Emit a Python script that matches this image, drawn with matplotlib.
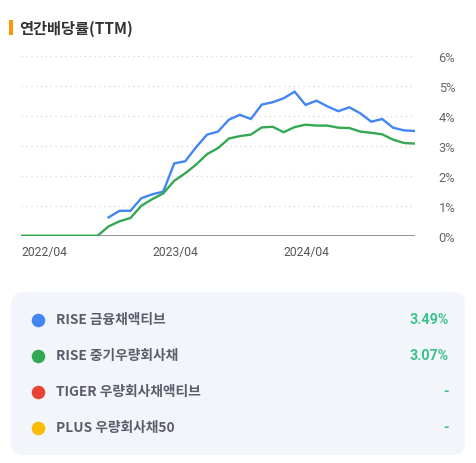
import numpy as np
import matplotlib
matplotlib.use("Agg")
import matplotlib.pyplot as plt
from matplotlib.patches import FancyBboxPatch, Rectangle

# monthly, 2022/04 .. 2025/04
months = [f"{2022 + (3 + i) // 12}/{(3 + i) % 12 + 1:02d}" for i in range(37)]
tick_labels = ["2022/04", "2023/04", "2024/04"]

rise_fin = [np.nan] * 8 + [0.61, 0.83, 0.83, 1.25, 1.38, 1.47, 2.41, 2.48, 2.95, 3.37,
                           3.47, 3.87, 4.03, 3.89, 4.37, 4.45, 4.58, 4.80, 4.36, 4.50,
                           4.31, 4.15, 4.28, 4.08, 3.80, 3.89, 3.60, 3.51, 3.49]
rise_mid = [0.0] * 8 + [0.31, 0.48, 0.59, 1.00, 1.22, 1.41, 1.83, 2.08, 2.37, 2.72,
                        2.92, 3.24, 3.32, 3.37, 3.61, 3.63, 3.45, 3.62, 3.70, 3.67,
                        3.67, 3.60, 3.59, 3.47, 3.43, 3.38, 3.20, 3.09, 3.07]

names = ["RISE 금융채액티브", "RISE 중기우량회사채", "TIGER 우량회사채액티브", "PLUS 우량회사채50"]
latest = ["3.49%", "3.07%", "-", "-"]
colors = ["#4285f4", "#34a853", "#ea4335", "#fbbc05"]

kr = ["Noto Sans CJK KR", "DejaVu Sans"]

fig = plt.figure(figsize=(4.76, 4.64), dpi=100)
W, H = 476, 464

# overlay in pixel coords
ov = fig.add_axes([0, 0, 1, 1])
ov.set_xlim(0, W)
ov.set_ylim(H, 0)
ov.axis("off")

ov.add_patch(Rectangle((9, 21), 3.5, 15, color="#ff9500", lw=0))
ov.text(19, 28.5, "연간배당률(TTM)", family=kr, fontsize=11, fontweight="bold",
        color="#333333", va="center", ha="left")

ov.add_patch(FancyBboxPatch((11, 293), 454, 163, boxstyle="round,pad=0,rounding_size=13",
                            fc="#f2f5f9", ec="none"))
for k, (nm, v, c) in enumerate(zip(names, latest, colors)):
    y = 320.5 + k * 36
    ov.scatter([37.5], [y], s=95, color=c, lw=0, zorder=3)
    ov.text(56, y, nm, family=kr, fontsize=9.9, fontweight="bold", color="#5c5c6b",
            va="center", ha="left")
    ov.text(449, y, v, family=["Roboto", "DejaVu Sans"], fontsize=10.3, fontweight="bold",
            color="#3cc08c", va="center", ha="right")

# chart
ax = fig.add_axes([21 / W, (H - 236.7) / H, 394 / W, 180 / H])
x = np.arange(len(months))
ax.plot(x, rise_fin, color=colors[0], lw=1.7, zorder=3, solid_joinstyle="miter")
ax.plot(x, rise_mid, color=colors[1], lw=1.7, zorder=3, solid_joinstyle="miter")
ax.set_xlim(0, len(months) - 1)
ax.set_ylim(0, 6)
for g in range(1, 7):
    ax.axhline(g, color="#dddddd", lw=1, ls=(0, (1, 2.5)), zorder=1)
ax.axhline(0, color="#8a8a8a", lw=2, zorder=2)
for s in ax.spines.values():
    s.set_visible(False)
ax.yaxis.tick_right()
ax.set_yticks(range(7))
ax.set_yticklabels([f"{v}%" for v in range(7)])
ax.set_xticks([months.index(t) for t in tick_labels])
ax.set_xticklabels(tick_labels, ha="left")
ax.tick_params(length=0, labelsize=8.7, colors="#555555")
ax.tick_params(axis="y", labelsize=9.3, colors="#666666", pad=17)
ax.tick_params(axis="x", pad=7)
for lab in ax.get_xticklabels() + ax.get_yticklabels():
    lab.set_family(["Roboto", "DejaVu Sans"])
ax.patch.set_alpha(0)

fig.savefig("out.png", dpi=100)
